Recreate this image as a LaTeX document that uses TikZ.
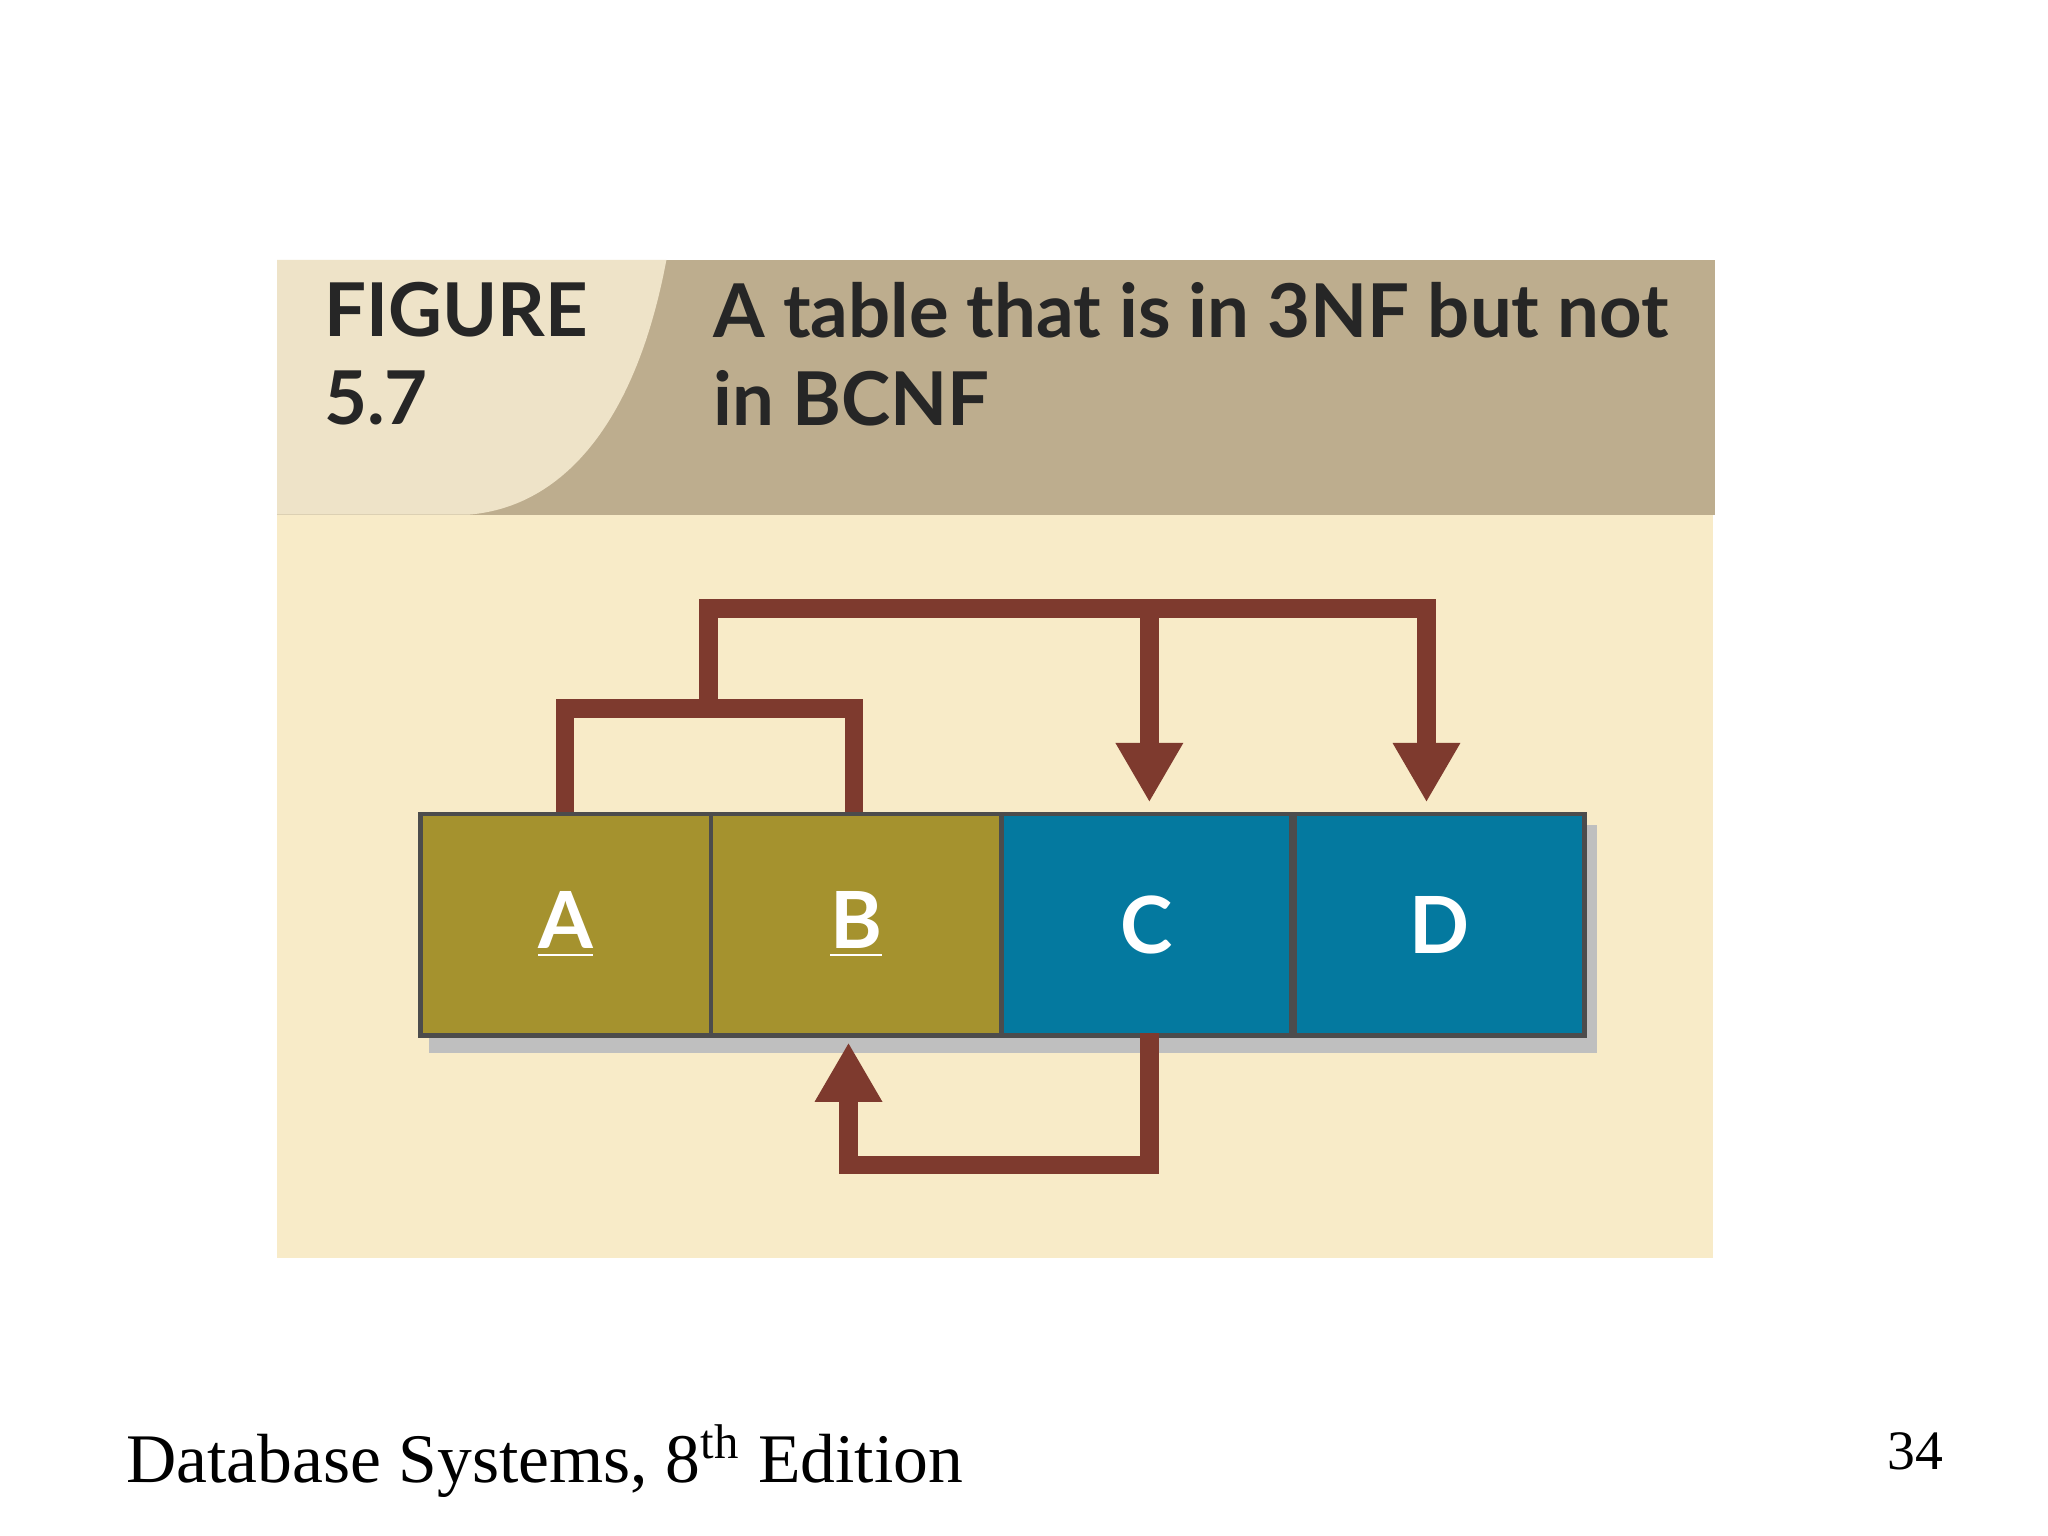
\documentclass[tikz,border=0pt]{standalone}
\usepackage{fontspec}
\setmainfont{Liberation Serif}
\newfontfamily\hdfont{Lato}
\usetikzlibrary{arrows.meta}
\definecolor{tanc}{HTML}{BDAD8E}
\definecolor{lightc}{HTML}{EEE3C8}
\definecolor{bodyc}{HTML}{F8EBC8}
\definecolor{olive}{HTML}{A5922E}
\definecolor{bluec}{HTML}{04799F}
\definecolor{arr}{HTML}{7E3A2E}
\tikzset{
 cell/.style={draw=black!70, line width=1pt, minimum width=2.2cm, minimum height=1.68cm, inner sep=0pt, text=white, font=\hdfont\bfseries\fontsize{17}{17}\selectfont},
 dep/.style={draw=arr, line width=0.14cm},
 deparr/.style={dep, -{Triangle[length=0.45cm,width=0.48cm]}},
 hd/.style={anchor=north west, align=left, text=black!85, font=\hdfont\bfseries\fontsize{16}{19}\selectfont, inner sep=0pt}
}
\begin{document}
\begin{tikzpicture}[x=0.01cm,y=-0.01cm]
\useasboundingbox[fill=white] (0,0) rectangle (1552,1164);
\fill[bodyc] (210,390) rectangle (1298,953);
\fill[tanc] (210,197) rectangle (1300,390);
\fill[lightc] (210,197) -- (505,197) .. controls (480,330) and (420,385) .. (355,390) -- (210,390) -- cycle;
\node[hd] (fig) at (245,213) {FIGURE\\5.7};
\node[hd] (ttl) at (540,213) {A table that is in 3NF but not\\in BCNF};
% shadow
\fill[black!25] (325,625) rectangle (1210,798);
\node[cell, fill=olive, anchor=north west] (A) at (317,615) {\underline{A}};
\node[cell, fill=olive, anchor=north west] (B) at (537,615) {\underline{B}};
\node[cell, fill=bluec, anchor=north west] (C) at (757,615) {C};
\node[cell, fill=bluec, anchor=north west] (D) at (979,615) {D};
\coordinate (ta) at (428,615);
\coordinate (tb) at (647,615);
\draw[dep] (ta) -- (428,537) -- (647,537) -- (tb);
\draw[deparr, line join=miter] (537,537) -- (537,461) -- (1081,461) -- (1081,608);
\draw[deparr] (871,461) -- (871,608);
\draw[deparr, line join=miter] (871,783) -- (871,883) -- (643,883) -- (643,790);
\node[anchor=west, font=\fontsize{15}{15}\selectfont, inner sep=0pt] (foot) at (95,1107) {Database Systems, 8\textsuperscript{th} Edition};
\node[anchor=west, font=\fontsize{12}{12}\selectfont, inner sep=0pt] (pg) at (1430,1100) {34};
\end{tikzpicture}
\end{document}
